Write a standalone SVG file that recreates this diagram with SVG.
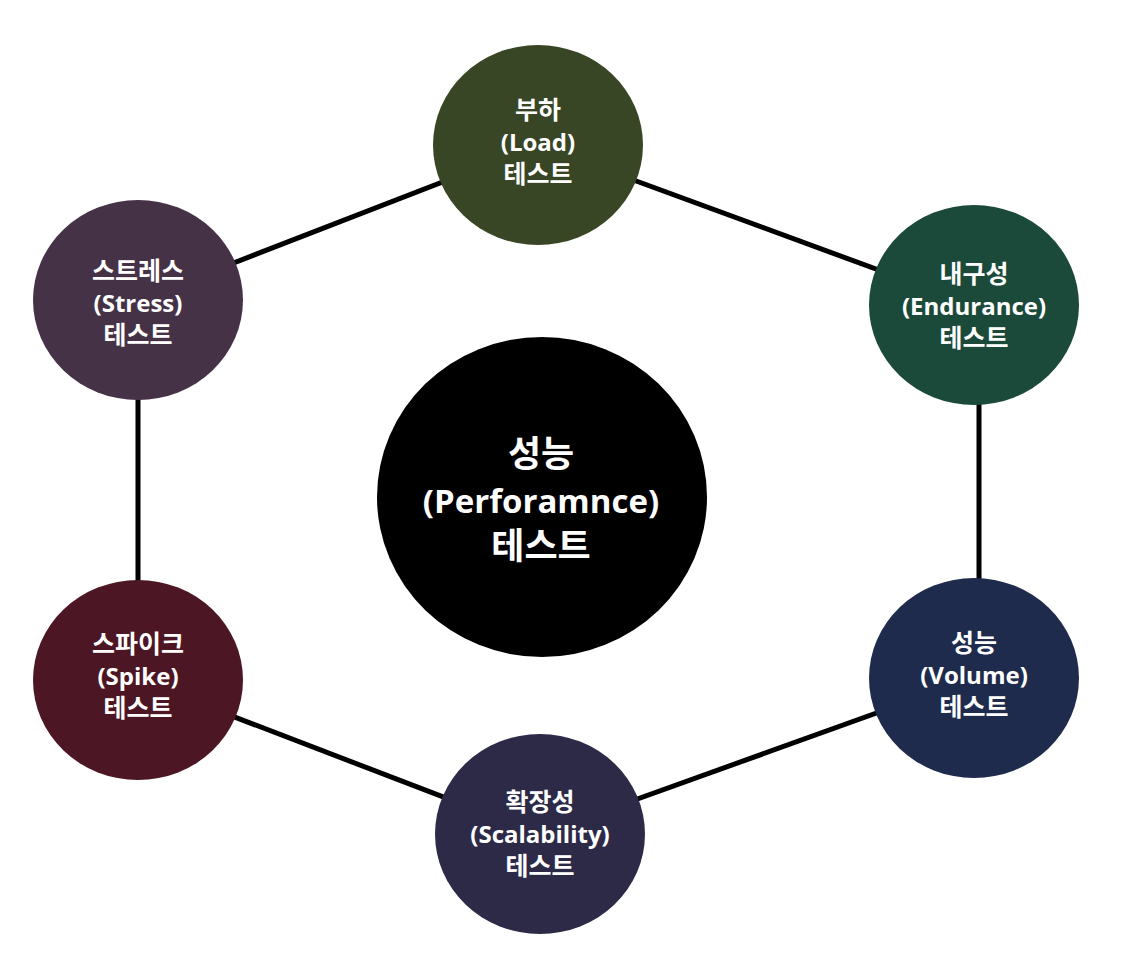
<svg xmlns="http://www.w3.org/2000/svg" width="1124" height="980" viewBox="0 0 1124 980">
<style>
.lbl{font-family:"Lato","Noto Sans CJK KR",sans-serif;font-weight:bold;fill:#ffffff;text-anchor:middle}
.s{font-size:25px}
.c{font-size:36px}
.lat{font-family:"Open Sans","Noto Sans",sans-serif;font-weight:bold}
.s .lat{font-size:24px}
.c .lat{font-size:33px}
.conn line{stroke:#000;stroke-width:5}
</style>
<rect width="1124" height="980" fill="#ffffff"/>
<g id="connectors" class="conn">
<line x1="138" y1="300" x2="538" y2="145"/>
<line x1="538" y1="145" x2="974" y2="305"/>
<line x1="979" y1="305" x2="979" y2="678"/>
<line x1="974" y1="678" x2="540" y2="834"/>
<line x1="540" y1="834" x2="138" y2="680"/>
<line x1="138" y1="300" x2="138" y2="680"/>
</g>
<g id="center">
<ellipse cx="542" cy="497" rx="165" ry="160" fill="#000"/>
<text class="lbl c" x="541" y="467">성능<tspan class="lat" x="541" dy="46">(Perforamnce)</tspan><tspan x="541" dy="46">테스트</tspan></text>
</g>
<g id="load">
<ellipse cx="538" cy="145" rx="105" ry="100" fill="#384625"/>
<text class="lbl s" x="538" y="119">부하<tspan class="lat" x="538" dy="32">(Load)</tspan><tspan x="538" dy="32">테스트</tspan></text>
</g>
<g id="endurance">
<ellipse cx="974" cy="305" rx="105" ry="100" fill="#1c4a3a"/>
<text class="lbl s" x="974" y="283">내구성<tspan class="lat" x="974" dy="32">(Endurance)</tspan><tspan x="974" dy="32">테스트</tspan></text>
</g>
<g id="volume">
<ellipse cx="974" cy="678" rx="105" ry="100" fill="#1f2b4d"/>
<text class="lbl s" x="974" y="652">성능<tspan class="lat" x="974" dy="32">(Volume)</tspan><tspan x="974" dy="32">테스트</tspan></text>
</g>
<g id="scalability">
<ellipse cx="540" cy="834" rx="105" ry="100" fill="#2d2a48"/>
<text class="lbl s" x="540" y="811">확장성<tspan class="lat" x="540" dy="32">(Scalability)</tspan><tspan x="540" dy="32">테스트</tspan></text>
</g>
<g id="spike">
<ellipse cx="138" cy="680" rx="105" ry="100" fill="#4d1624"/>
<text class="lbl s" x="138" y="653">스파이크<tspan class="lat" x="138" dy="32">(Spike)</tspan><tspan x="138" dy="32">테스트</tspan></text>
</g>
<g id="stress">
<ellipse cx="138" cy="300" rx="105" ry="100" fill="#463247"/>
<text class="lbl s" x="138" y="280">스트레스<tspan class="lat" x="138" dy="32">(Stress)</tspan><tspan x="138" dy="32">테스트</tspan></text>
</g>
</svg>
